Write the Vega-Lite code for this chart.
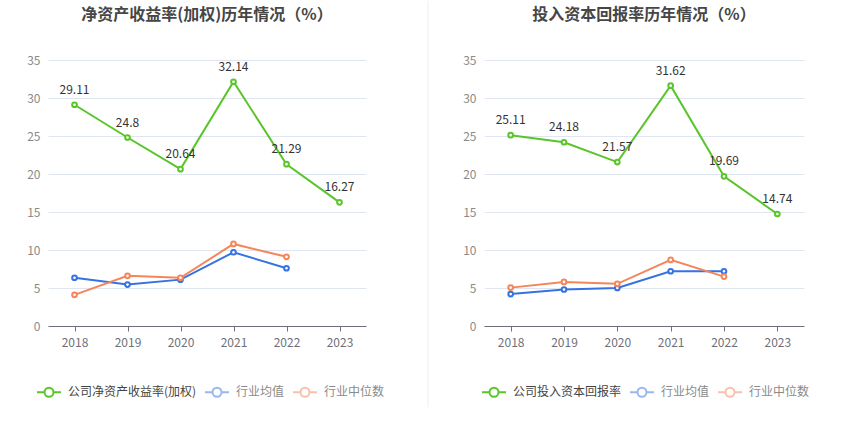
{
  "$schema": "https://vega.github.io/schema/vega-lite/v6.json",
  "padding": {"left": 26, "top": 0, "right": 5, "bottom": 5},
  "background": "white",
  "datasets": {
    "roe": [
      {"year": "2018", "series": "公司净资产收益率(加权)", "value": 29.11},
      {"year": "2019", "series": "公司净资产收益率(加权)", "value": 24.8},
      {"year": "2020", "series": "公司净资产收益率(加权)", "value": 20.64},
      {"year": "2021", "series": "公司净资产收益率(加权)", "value": 32.14},
      {"year": "2022", "series": "公司净资产收益率(加权)", "value": 21.29},
      {"year": "2023", "series": "公司净资产收益率(加权)", "value": 16.27},
      {"year": "2018", "series": "行业均值", "value": 6.35},
      {"year": "2019", "series": "行业均值", "value": 5.45},
      {"year": "2020", "series": "行业均值", "value": 6.1},
      {"year": "2021", "series": "行业均值", "value": 9.7},
      {"year": "2022", "series": "行业均值", "value": 7.6},
      {"year": "2018", "series": "行业中位数", "value": 4.1},
      {"year": "2019", "series": "行业中位数", "value": 6.6},
      {"year": "2020", "series": "行业中位数", "value": 6.35},
      {"year": "2021", "series": "行业中位数", "value": 10.8},
      {"year": "2022", "series": "行业中位数", "value": 9.1}
    ],
    "roic": [
      {"year": "2018", "series": "公司投入资本回报率", "value": 25.11},
      {"year": "2019", "series": "公司投入资本回报率", "value": 24.18},
      {"year": "2020", "series": "公司投入资本回报率", "value": 21.57},
      {"year": "2021", "series": "公司投入资本回报率", "value": 31.62},
      {"year": "2022", "series": "公司投入资本回报率", "value": 19.69},
      {"year": "2023", "series": "公司投入资本回报率", "value": 14.74},
      {"year": "2018", "series": "行业均值", "value": 4.2},
      {"year": "2019", "series": "行业均值", "value": 4.8},
      {"year": "2020", "series": "行业均值", "value": 5.0},
      {"year": "2021", "series": "行业均值", "value": 7.2},
      {"year": "2022", "series": "行业均值", "value": 7.2},
      {"year": "2018", "series": "行业中位数", "value": 5.05},
      {"year": "2019", "series": "行业中位数", "value": 5.8},
      {"year": "2020", "series": "行业中位数", "value": 5.55},
      {"year": "2021", "series": "行业中位数", "value": 8.7},
      {"year": "2022", "series": "行业中位数", "value": 6.5}
    ],
    "divider": [{"x": 1.0, "top": 42.8, "bottom": -10.7}]
  },
  "spacing": 33,
  "hconcat": [
    {
      "title": "净资产收益率(加权)历年情况（%）",
      "width": 318, "height": 266,
      "data": {"name": "roe"},
      "encoding": {
        "x": {"field": "year", "type": "ordinal", "scale": {"type": "point", "padding": 0.5},
              "axis": {"title": null, "labelAngle": 0, "grid": false}},
        "y": {"field": "value", "type": "quantitative", "scale": {"domain": [0, 35]},
              "axis": {"title": null, "values": [0, 5, 10, 15, 20, 25, 30, 35], "domain": false, "ticks": false}}
      },
      "layer": [
        {
          "mark": {"type": "line", "strokeWidth": 2, "point": {"filled": false, "fill": "white", "size": 22, "strokeWidth": 2}},
          "encoding": {
            "color": {"field": "series", "type": "nominal",
              "scale": {"domain": ["公司净资产收益率(加权)", "行业均值", "行业中位数"], "range": ["#5ac52a", "#3572e2", "#f5855a"]},
              "legend": {"orient": "none", "legendX": -12, "legendY": 319,
                "encode": {
                  "symbols": {"update": {"opacity": {"signal": "datum.index === 0 ? 1 : 0.5"}}},
                  "labels": {"update": {"fill": {"signal": "datum.index === 0 ? '#444444' : '#8a8a8a'"}}}
                }}}
          }
        },
        {
          "transform": [{"filter": "datum.series === '公司净资产收益率(加权)'"}],
          "mark": {"type": "text", "dy": -15, "fontSize": 12, "color": "#333333"},
          "encoding": {"text": {"field": "value", "type": "quantitative"}}
        }
      ]
    },
    {
      "width": 10, "height": 266,
      "data": {"name": "divider"},
      "mark": {"type": "rule", "color": "#eeeeee", "strokeWidth": 1},
      "encoding": {
        "x": {"field": "x", "type": "quantitative", "scale": {"domain": [0, 1]}, "axis": null},
        "y": {"field": "bottom", "type": "quantitative", "scale": {"domain": [0, 35]}, "axis": null},
        "y2": {"field": "top"}
      }
    },
    {
      "title": "投入资本回报率历年情况（%）",
      "width": 320, "height": 266,
      "data": {"name": "roic"},
      "encoding": {
        "x": {"field": "year", "type": "ordinal", "scale": {"type": "point", "padding": 0.5},
              "axis": {"title": null, "labelAngle": 0, "grid": false}},
        "y": {"field": "value", "type": "quantitative", "scale": {"domain": [0, 35]},
              "axis": {"title": null, "values": [0, 5, 10, 15, 20, 25, 30, 35], "domain": false, "ticks": false}}
      },
      "layer": [
        {
          "mark": {"type": "line", "strokeWidth": 2, "point": {"filled": false, "fill": "white", "size": 22, "strokeWidth": 2}},
          "encoding": {
            "color": {"field": "series", "type": "nominal",
              "scale": {"domain": ["公司投入资本回报率", "行业均值", "行业中位数"], "range": ["#5ac52a", "#3572e2", "#f5855a"]},
              "legend": {"orient": "none", "legendX": -3, "legendY": 319,
                "encode": {
                  "symbols": {"update": {"opacity": {"signal": "datum.index === 0 ? 1 : 0.5"}}},
                  "labels": {"update": {"fill": {"signal": "datum.index === 0 ? '#444444' : '#8a8a8a'"}}}
                }}}
          }
        },
        {
          "transform": [{"filter": "datum.series === '公司投入资本回报率'"}],
          "mark": {"type": "text", "dy": -15, "fontSize": 12, "color": "#333333"},
          "encoding": {"text": {"field": "value", "type": "quantitative"}}
        }
      ]
    }
  ],
  "resolve": {"scale": {"color": "independent", "x": "independent", "y": "independent"}},
  "config": {
    "font": "Noto Sans CJK SC",
    "view": {"stroke": null},
    "title": {"fontSize": 16, "fontWeight": "bold", "color": "#464646", "anchor": "middle", "offset": 31},
    "axis": {"labelFont": "Noto Sans CJK SC", "labelFontSize": 12, "labelColor": "#8a8a8a", "gridColor": "#e0e6f1", "labelPadding": 8},
    "axisX": {"domainColor": "#6e7079", "tickColor": "#6e7079", "tickSize": 5, "labelColor": "#6e7079", "labelPadding": 6},
    "legend": {
      "title": null, "direction": "horizontal",
      "symbolType": "M-1,0L-0.375,0M0.375,0L1,0M-0.375,0A0.375,0.375,0,1,1,0.375,0A0.375,0.375,0,1,1,-0.375,0",
      "symbolSize": 576, "symbolStrokeWidth": 2, "symbolFillColor": "white",
      "labelFontSize": 12, "labelColor": "#333333", "labelOffset": 6, "columnPadding": 4,
      "labelFont": "Noto Sans CJK SC"
    }
  }
}
